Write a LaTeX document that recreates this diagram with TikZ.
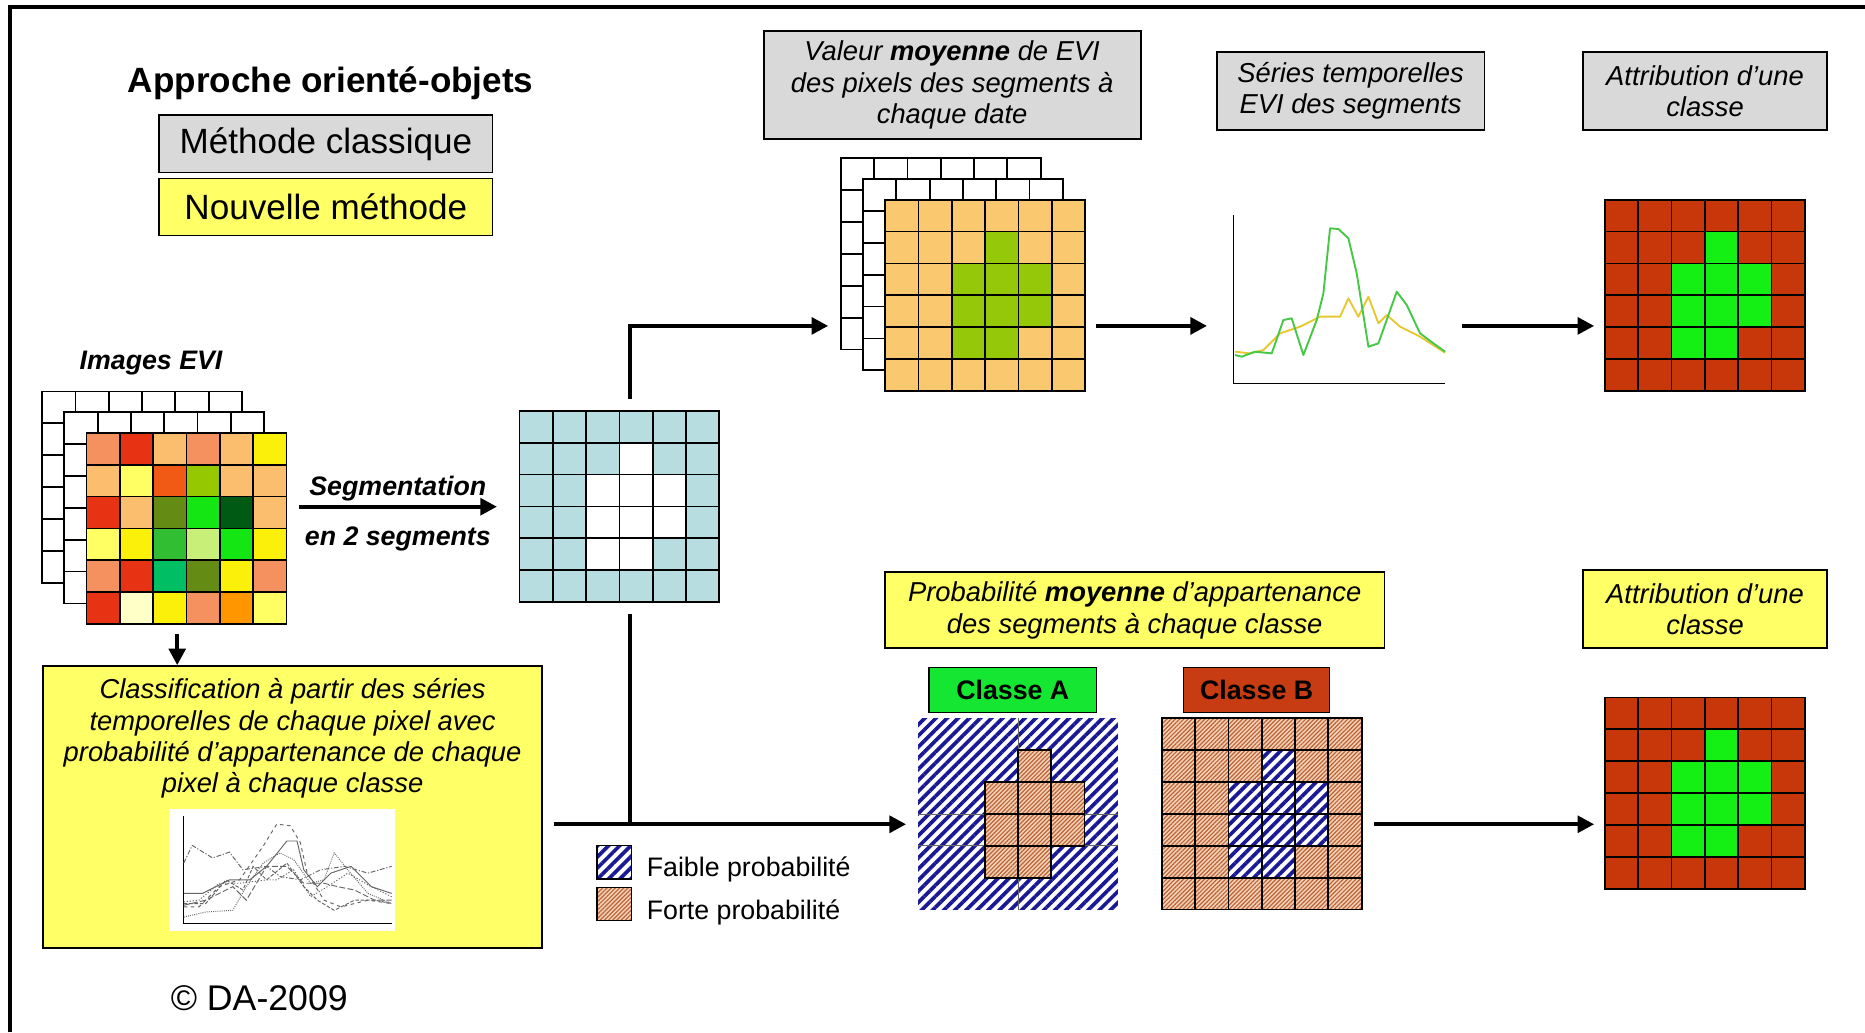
\documentclass[tikz,border=0pt]{standalone}
\usepackage{fontspec}
\setmainfont{Liberation Sans}
\usetikzlibrary{arrows.meta, patterns.meta, positioning}

\definecolor{boxgray}{RGB}{217,217,217}
\definecolor{boxyellow}{RGB}{255,255,102}
\definecolor{segblue}{RGB}{183,221,224}
\definecolor{meanorange}{RGB}{250,200,110}
\definecolor{meangreen}{RGB}{150,200,10}
\definecolor{classred}{RGB}{200,55,10}
\definecolor{classgreen}{RGB}{20,240,20}
\definecolor{labelgreen}{RGB}{20,230,50}
\definecolor{labelred}{RGB}{200,60,20}
\definecolor{hatchblue}{RGB}{25,25,150}
\definecolor{hatchbrown}{RGB}{185,100,60}
\definecolor{peach}{RGB}{245,208,178}
\definecolor{seriegreen}{RGB}{70,200,70}
\definecolor{serieyellow}{RGB}{230,200,50}
% EVI colours
\definecolor{cSal}{RGB}{245,145,95}
\definecolor{cRed}{RGB}{232,50,20}
\definecolor{cLor}{RGB}{250,190,110}
\definecolor{cYel}{RGB}{250,240,10}
\definecolor{cLyl}{RGB}{255,255,100}
\definecolor{cOre}{RGB}{240,90,20}
\definecolor{cYgr}{RGB}{150,200,0}
\definecolor{cOlv}{RGB}{100,140,20}
\definecolor{cBgr}{RGB}{20,230,20}
\definecolor{cDgr}{RGB}{0,90,20}
\definecolor{cMgr}{RGB}{50,190,50}
\definecolor{cLgr}{RGB}{200,240,120}
\definecolor{cTea}{RGB}{0,190,100}
\definecolor{cCrm}{RGB}{255,255,200}
\definecolor{cOrg}{RGB}{255,150,0}

\tikzset{
  cell/.style={draw, line width=1.5pt},
  flow/.style={line width=3.4pt, -{Triangle[length=14pt,width=14pt]}},
  link/.style={line width=3.4pt},
  note/.style={align=center, font=\fontsize{23}{26.3}\selectfont\itshape},
  graybox/.style={draw, line width=1.5pt, fill=boxgray, inner sep=0pt, note},
  yellowbox/.style={graybox, fill=boxyellow},
  keybox/.style={draw, line width=1.5pt, minimum width=280pt, minimum height=48pt,
    inner sep=0pt, font=\fontsize{29.5}{34}\selectfont},
  tag/.style={inner sep=0pt, font=\fontsize{22.5}{26}\selectfont\bfseries\itshape},
  classlbl/.style={draw, line width=1.2pt, minimum height=38pt, inner sep=0pt,
    font=\fontsize{22.5}{26}\selectfont\bfseries},
  gridbox/.style={minimum width=168pt, minimum height=160.8pt, inner sep=0pt},
  faible/.style={preaction={fill=white},
    pattern={Lines[angle=45,distance=6.6pt,line width=3.1pt]}, pattern color=hatchblue},
  forte/.style={preaction={fill=peach},
    pattern={Lines[angle=45,distance=2.5pt,line width=1pt]}, pattern color=hatchbrown},
}

% cells of the segment (col/row, from the top left)
\def\segcells{3/1,2/2,3/2,4/2,2/3,3/3,4/3,2/4,3/4}

\newcommand{\pixgrid}[3]{%
  \begin{scope}[shift={(#1.north west)}]
    \foreach \i in {0,...,5}
      \foreach \j in {0,...,5}
        \draw[cell, #2] (\i*28,\j*26.8) rectangle ++(28,26.8);
    \foreach \i/\j in \segcells
      \draw[cell, #3] (\i*28,\j*26.8) rectangle ++(28,26.8);
  \end{scope}}

\newcommand{\stackgrid}[1]{%
  \begin{scope}[shift={(#1.north west)}]
    \foreach \k in {2,1}
      \foreach \i in {0,...,5}
        \foreach \j in {0,...,5}
          \draw[cell, fill=white] (\i*28-\k*18.7,\j*26.8-\k*17.4) rectangle ++(28,26.8);
  \end{scope}}

\begin{document}
\begin{tikzpicture}[x=1pt, y=-1pt]
  \useasboundingbox (0,0) rectangle (1568,868);
  \draw[line width=3.4pt] (8.5,868) -- (8.5,5.5) -- (1568,5.5);

  % legend
  \node[font=\fontsize{29.5}{34}\selectfont\bfseries] (title) at (278,70) {Approche orienté-objets};
  \node[keybox, fill=boxgray] (classic) at (274,121) {Méthode classique};
  \node[keybox, fill=boxyellow] (newmeth) at (274,174) {Nouvelle méthode};

  % EVI images
  \node[tag] (evilbl) at (127,305) {Images EVI};
  \node[gridbox] (evi) at (157,444.5) {};
  \stackgrid{evi}
  \begin{scope}[shift={(evi.north west)}]
    \foreach \row [count=\j from 0] in {{cSal,cRed,cLor,cSal,cLor,cYel},
        {cLor,cLyl,cOre,cYgr,cLor,cLor},{cRed,cLor,cOlv,cBgr,cDgr,cLor},
        {cLyl,cYel,cMgr,cLgr,cBgr,cYel},{cSal,cRed,cTea,cOlv,cYel,cSal},
        {cRed,cCrm,cYel,cSal,cOrg,cLyl}}
      \foreach \col [count=\i from 0] in \row
        \draw[cell, fill=\col] (\i*28,\j*26.8) rectangle ++(28,26.8);
  \end{scope}

  % segmentation
  \node[gridbox] (seg) at (521,426) {};
  \pixgrid{seg}{fill=segblue}{fill=white}

  % classification per pixel
  \node[draw, line width=1.5pt, fill=boxyellow, minimum width=420pt, minimum height=237pt] (classif) at (246,678.5) {};
  \node[note] (classtxt) at (246,621) {Classification à partir des séries\\temporelles de chaque pixel avec\\probabilité d’appartenance de chaque\\pixel à chaque classe};
  \begin{scope}[shift={(25.2,546.5)}, x=0.2842pt, y=-0.2842pt]
    \fill[white] (410,470) rectangle (1080,830);
    \draw[line width=0.8pt] (453,490) -- (453,808) -- (1072,808);
    \begin{scope}[line width=0.8pt, black!60]
      \draw[dash pattern=on 4pt off 1.5pt on 1pt off 1.5pt] (455,630) -- (480,578) -- (540,615) -- (590,598) -- (630,650) -- (700,640) -- (740,670) -- (800,680) -- (860,650) -- (930,640) -- (1000,660) -- (1070,640);
      \draw[dashed] (455,760) -- (500,760) -- (560,700) -- (620,680) -- (690,580) -- (730,515) -- (770,520) -- (800,570) -- (820,660) -- (870,740) -- (920,760) -- (1000,740) -- (1070,750);
      \draw (455,720) -- (510,720) -- (590,680) -- (650,680) -- (700,640) -- (760,565) -- (790,565) -- (810,650) -- (850,700) -- (890,660) -- (950,640) -- (1010,700) -- (1070,720);
      \draw[densely dotted] (455,790) -- (520,775) -- (600,770) -- (640,700) -- (690,630) -- (740,600) -- (780,620) -- (830,690) -- (870,680) -- (900,600) -- (940,650) -- (1000,720) -- (1070,750);
      \draw[dash pattern=on 3pt off 1.5pt] (455,750) -- (520,750) -- (580,680) -- (630,710) -- (660,640) -- (700,680) -- (760,630) -- (810,700) -- (850,740) -- (900,770) -- (960,740) -- (1020,740) -- (1070,750);
      \draw[dash pattern=on 1pt off 1.5pt] (455,745) -- (500,740) -- (560,690) -- (620,690) -- (700,680) -- (730,680) -- (780,650) -- (830,730) -- (880,700) -- (940,660) -- (1010,700) -- (1070,730);
      \draw[dash pattern=on 5pt off 2pt] (455,755) -- (520,740) -- (600,700) -- (640,740) -- (700,640) -- (760,640) -- (810,690) -- (870,690) -- (910,700) -- (960,710) -- (1020,740) -- (1070,740);
    \end{scope}
  \end{scope}

  % classic method
  \node[graybox, minimum width=317pt, minimum height=91pt] (meanlbl) at (800.5,71.5) {Valeur \textbf{moyenne} de EVI\\des pixels des segments à\\chaque date};
  \node[gridbox] (mean) at (828.5,248.5) {};
  \stackgrid{mean}
  \pixgrid{mean}{fill=meanorange}{fill=meangreen}

  \node[graybox, minimum width=225pt, minimum height=65pt] (serieslbl) at (1135.5,76.5) {Séries temporelles\\EVI des segments};
  \node[minimum width=178pt, minimum height=141pt, inner sep=0pt] (chart) at (1126,251.5) {};
  \draw[line width=0.8pt] (chart.north west) |- (chart.south east);
  \begin{scope}[shift={(992.1,33.6)}, x=0.2803pt, y=-0.2803pt, line width=1.6pt, line join=round]
    \draw[serieyellow] (165,935) -- (210,940) -- (250,930) -- (300,880) -- (360,860) -- (420,830) -- (480,830) -- (505,775) -- (535,830) -- (565,770) -- (595,850) -- (620,825) -- (660,860) -- (720,890) -- (795,938);
    \draw[seriegreen] (165,945) -- (185,950) -- (225,935) -- (275,940) -- (310,840) -- (335,835) -- (370,945) -- (410,840) -- (430,760) -- (450,565) -- (475,567) -- (505,595) -- (530,700) -- (565,920) -- (595,910) -- (650,755) -- (680,795) -- (720,880) -- (760,910) -- (795,935);
  \end{scope}

  \node[graybox, minimum width=205pt, minimum height=65pt] (attrtop) at (1433.5,76.5) {Attribution d’une\\classe};
  \node[gridbox] (classtop) at (1433.5,248.5) {};
  \pixgrid{classtop}{fill=classred}{fill=classgreen}

  % new method
  \node[yellowbox, minimum width=420pt, minimum height=64pt] (problbl) at (954,513) {Probabilité \textbf{moyenne} d’appartenance\\des segments à chaque classe};
  \node[classlbl, fill=labelgreen, minimum width=141pt] (labA) at (851.5,580) {Classe A};
  \node[classlbl, fill=labelred, minimum width=123pt] (labB) at (1056.5,580) {Classe B};
  \node[gridbox] (cla) at (856,684.5) {};
  \begin{scope}[shift={(cla.north west)}]
    \path[faible] (0,0) rectangle (168,160.8);
    \draw[line width=0.6pt, black!60] (84,0) -- (84,160.8) (0,80.4) -- (168,80.4) (0,107.2) -- (168,107.2);
    \foreach \i/\j in \segcells
      \draw[cell, forte] (\i*28,\j*26.8) rectangle ++(28,26.8);
  \end{scope}
  \node[gridbox] (clb) at (1061,684.5) {};
  \pixgrid{clb}{forte}{faible}

  \node[yellowbox, minimum width=205pt, minimum height=66pt] (attrbot) at (1433.5,512) {Attribution d’une\\classe};
  \node[gridbox] (classbot) at (1433.5,667) {};
  \pixgrid{classbot}{fill=classred}{fill=classgreen}

  % hatch key
  \node[draw, line width=1.2pt, faible, minimum width=29pt, minimum height=28pt, inner sep=0pt] (keylow) at (516.5,725) {};
  \node[draw, line width=1.2pt, forte, minimum width=29pt, minimum height=28pt, inner sep=0pt] (keyhigh) at (516.5,760) {};
  \node[right=12pt of keylow, yshift=-6pt, inner sep=0pt, font=\fontsize{22.5}{26}\selectfont] (keylowtxt) {Faible probabilité};
  \node[right=12pt of keyhigh, yshift=-7pt, inner sep=0pt, font=\fontsize{22.5}{26}\selectfont] (keyhightxt) {Forte probabilité};

  \node[font=\fontsize{30}{34}\selectfont] (copy) at (218,839) {© DA-2009};

  % connectors
  \coordinate (rowtop) at (0,274);
  \coordinate (rowbot) at (0,693);
  \draw[flow] ([xshift=10pt]evi.east |- seg.west) -- ([xshift=-19pt]seg.west)
    node[midway, above=3pt, tag] (segtxt) {Segmentation}
    node[midway, below=15pt, tag] (segtxt2) {en 2 segments};
  \draw[flow] ([xshift=-8pt,yshift=-8pt]evi.south) -- ([xshift=-8pt]evi.south |- classif.north);
  \draw[flow] ([xshift=9pt,yshift=10pt]seg.north) |- ([xshift=-48pt]mean.west |- rowtop);
  \draw[flow] ([xshift=9pt]mean.east |- rowtop) -- ([xshift=-22pt]chart.west |- rowtop);
  \draw[flow] ([xshift=14pt]chart.east |- rowtop) -- ([xshift=-9pt]classtop.west |- rowtop);
  \draw[link] ([xshift=9pt,yshift=-10pt]seg.south) -- ([xshift=9pt]seg.south |- rowbot);
  \draw[flow] ([xshift=9pt]classif.east |- rowbot) -- ([xshift=-10pt]cla.west |- rowbot);
  \draw[flow] ([xshift=10pt]clb.east |- rowbot) -- ([xshift=-9pt]classbot.west |- rowbot);
\end{tikzpicture}
\end{document}
